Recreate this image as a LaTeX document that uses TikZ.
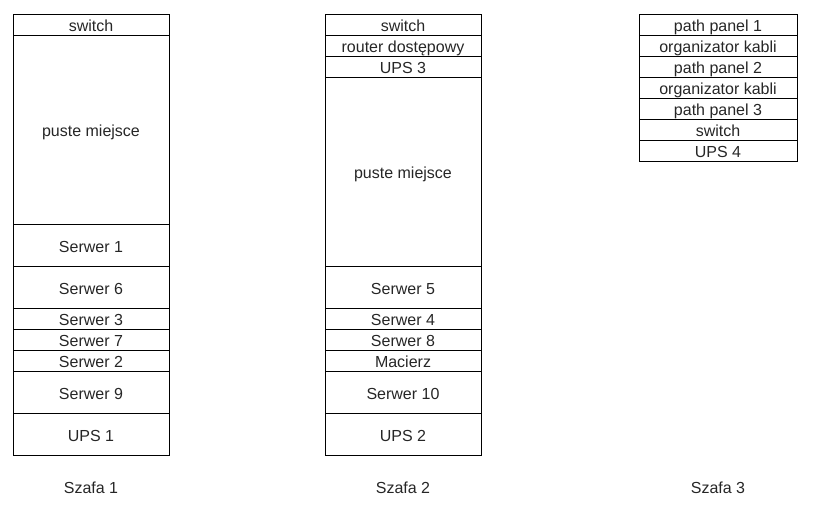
\documentclass[tikz,border=0pt]{standalone}
\usepackage{fontspec}
\setmainfont{Liberation Sans}
\begin{document}
\begin{tikzpicture}[x=1pt,y=-1pt,
  cell/.style={draw=black,line width=1pt,rectangle,anchor=north west,inner sep=0pt,outer sep=0pt,
    text height=15pt,text depth=0.6pt,
    font=\fontsize{16}{18}\selectfont,text=black!85},
  lab/.style={font=\fontsize{16}{18}\selectfont,text=black!85}]
\useasboundingbox (0,0) rectangle (816,514);
% Szafa 1
\node[cell,minimum width=156pt,minimum height=21pt] (a1) at (13,14) {switch};
\node[cell,minimum width=156pt,minimum height=189pt] (a2) at (13,35) {puste miejsce};
\node[cell,minimum width=156pt,minimum height=42pt] (a3) at (13,224) {Serwer 1};
\node[cell,minimum width=156pt,minimum height=42pt] (a4) at (13,266) {Serwer 6};
\node[cell,minimum width=156pt,minimum height=21pt] (a5) at (13,308) {Serwer 3};
\node[cell,minimum width=156pt,minimum height=21pt] (a6) at (13,329) {Serwer 7};
\node[cell,minimum width=156pt,minimum height=21pt] (a7) at (13,350) {Serwer 2};
\node[cell,minimum width=156pt,minimum height=42pt] (a8) at (13,371) {Serwer 9};
\node[cell,minimum width=156pt,minimum height=42pt] (a9) at (13,413) {UPS 1};
\node[lab] (s1) at (91,488) {Szafa 1};
% Szafa 2
\node[cell,minimum width=156pt,minimum height=21pt] (b1) at (325,14) {switch};
\node[cell,minimum width=156pt,minimum height=21pt] (b2) at (325,35) {router dostępowy};
\node[cell,minimum width=156pt,minimum height=21pt] (b3) at (325,56) {UPS 3};
\node[cell,minimum width=156pt,minimum height=189pt] (b4) at (325,77) {puste miejsce};
\node[cell,minimum width=156pt,minimum height=42pt] (b5) at (325,266) {Serwer 5};
\node[cell,minimum width=156pt,minimum height=21pt] (b6) at (325,308) {Serwer 4};
\node[cell,minimum width=156pt,minimum height=21pt] (b7) at (325,329) {Serwer 8};
\node[cell,minimum width=156pt,minimum height=21pt] (b8) at (325,350) {Macierz};
\node[cell,minimum width=156pt,minimum height=42pt] (b9) at (325,371) {Serwer 10};
\node[cell,minimum width=156pt,minimum height=42pt] (b10) at (325,413) {UPS 2};
\node[lab] (s2) at (403,488) {Szafa 2};
% Szafa 3
\node[cell,minimum width=158pt,minimum height=21pt] (c1) at (639,14) {path panel 1};
\node[cell,minimum width=158pt,minimum height=21pt] (c2) at (639,35) {organizator kabli};
\node[cell,minimum width=158pt,minimum height=21pt] (c3) at (639,56) {path panel 2};
\node[cell,minimum width=158pt,minimum height=21pt] (c4) at (639,77) {organizator kabli};
\node[cell,minimum width=158pt,minimum height=21pt] (c5) at (639,98) {path panel 3};
\node[cell,minimum width=158pt,minimum height=21pt] (c6) at (639,119) {switch};
\node[cell,minimum width=158pt,minimum height=21pt] (c7) at (639,140) {UPS 4};
\node[lab] (s3) at (718,488) {Szafa 3};
\end{tikzpicture}
\end{document}
